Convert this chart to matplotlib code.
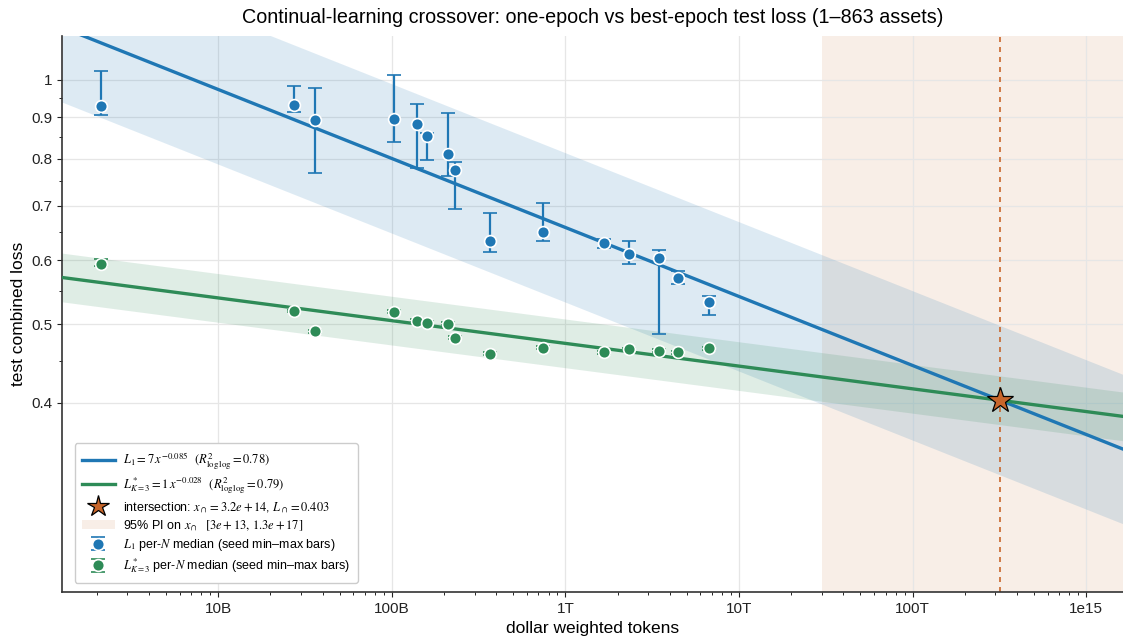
import numpy as np
import matplotlib
matplotlib.use("Agg")
import matplotlib.pyplot as plt
from matplotlib.ticker import FixedLocator, FuncFormatter, NullFormatter, LogLocator
from matplotlib.patches import Patch
from matplotlib.lines import Line2D

plt.rcParams["font.family"] = ["Liberation Sans", "DejaVu Sans"]
plt.rcParams["mathtext.fontset"] = "stix"

# per-N medians (dollar weighted tokens)
tokens = [2.11e9, 2.72e10, 3.61e10, 1.03e11, 1.39e11, 1.59e11, 2.11e11, 2.32e11,
          3.66e11, 7.4e11, 1.67e12, 2.34e12, 3.47e12, 4.46e12, 6.76e12]

l1_med = [0.930, 0.931, 0.893, 0.896, 0.882, 0.853, 0.810, 0.775,
          0.634, 0.649, 0.629, 0.610, 0.603, 0.570, 0.533]
l1_min = [0.906, 0.914, 0.768, 0.839, 0.780, 0.796, 0.762, 0.694,
          0.613, 0.634, 0.621, 0.593, 0.486, 0.561, 0.513]
l1_max = [1.026, 0.983, 0.976, 1.015, 0.934, 0.859, 0.910, 0.792,
          0.686, 0.705, 0.636, 0.634, 0.618, 0.581, 0.541]

l3_med = [0.593, 0.519, 0.490, 0.518, 0.505, 0.502, 0.501, 0.481,
          0.460, 0.468, 0.462, 0.466, 0.464, 0.462, 0.467]
l3_min = [0.590, 0.517, 0.488, 0.516, 0.503, 0.500, 0.499, 0.479,
          0.458, 0.466, 0.460, 0.464, 0.462, 0.460, 0.465]
l3_max = [0.602, 0.521, 0.492, 0.520, 0.507, 0.504, 0.503, 0.483,
          0.462, 0.470, 0.464, 0.468, 0.466, 0.464, 0.469]

# power-law fits and their crossover
b1, r2_1 = 0.085, 0.78
b3, r2_3 = 0.028, 0.79
x_cross, l_cross = 3.2e14, 0.403
pi_lo, pi_hi = 3e13, 1.3e17
band1_dex = 0.092
band3_dex = 0.030

a1 = l_cross * x_cross ** b1
a3 = l_cross * x_cross ** b3

blue = "#1f77b4"
green = "#2e8b57"
orange = "#c8662b"

fig = plt.figure(figsize=(11.23, 6.41), dpi=100)
ax = fig.add_axes([0.0552, 0.0765, 0.9448, 0.8675])

xlim = (1.26e9, 1.63e15)
xs = np.logspace(np.log10(xlim[0]), np.log10(xlim[1]), 300)
fit1 = a1 * xs ** (-b1)
fit3 = a3 * xs ** (-b3)

ax.axvspan(pi_lo, pi_hi, color=orange, alpha=0.11, lw=0, zorder=0)
ax.fill_between(xs, fit1 * 10 ** -band1_dex, fit1 * 10 ** band1_dex,
                color=blue, alpha=0.15, lw=0, zorder=1)
ax.fill_between(xs, fit3 * 10 ** -band3_dex, fit3 * 10 ** band3_dex,
                color=green, alpha=0.15, lw=0, zorder=1)
ax.plot(xs, fit1, color=blue, lw=2.4, zorder=3)
ax.plot(xs, fit3, color=green, lw=2.4, zorder=3)
ax.axvline(x_cross, color=orange, ls=(0, (3, 3)), lw=1.2, zorder=2)

l1_med = np.array(l1_med)
l3_med = np.array(l3_med)
err1 = [l1_med - np.array(l1_min), np.array(l1_max) - l1_med]
err3 = [l3_med - np.array(l3_min), np.array(l3_max) - l3_med]
eb1 = ax.errorbar(tokens, l1_med, yerr=err1, fmt="o", color=blue, ms=8.5,
                  mec="white", mew=1.2, elinewidth=1.6, capsize=5, capthick=1.6, zorder=4)
eb3 = ax.errorbar(tokens, l3_med, yerr=err3, fmt="o", color=green, ms=8.5,
                  mec="white", mew=1.2, elinewidth=1.6, capsize=5, capthick=1.6, zorder=4)
ax.plot([x_cross], [l_cross], marker="*", ms=19, color=orange, mec="black", mew=0.9, zorder=6)

ax.set_xscale("log")
ax.set_yscale("log")
ax.set_xlim(*xlim)
ax.set_ylim(0.234, 1.133)

ax.yaxis.set_major_locator(FixedLocator([0.4, 0.5, 0.6, 0.7, 0.8, 0.9, 1.0]))
ax.yaxis.set_major_formatter(FuncFormatter(lambda v, p: f"{v:g}"))
ax.yaxis.set_minor_locator(FixedLocator([0.45, 0.55, 0.65, 0.75, 0.85, 0.95]))
ax.yaxis.set_minor_formatter(NullFormatter())

x_ticks = [1e10, 1e11, 1e12, 1e13, 1e14, 1e15]
x_tick_labels = ["10B", "100B", "1T", "10T", "100T", "1e15"]
ax.xaxis.set_major_locator(FixedLocator(x_ticks))
ax.set_xticklabels(x_tick_labels)
ax.xaxis.set_minor_locator(LogLocator(base=10, subs=np.arange(2, 10), numticks=20))
ax.xaxis.set_minor_formatter(NullFormatter())

ax.grid(True, which="major", color="#e6e6e6", lw=0.9)
ax.set_axisbelow(True)
for s in ["top", "right"]:
    ax.spines[s].set_visible(False)
for s in ["left", "bottom"]:
    ax.spines[s].set_color("#333333")
    ax.spines[s].set_linewidth(1.2)
ax.tick_params(labelsize=11, colors="#222222")

ax.set_xlabel("dollar weighted tokens", fontsize=12.5)
ax.set_ylabel("test combined loss", fontsize=12.5)
ax.set_title("Continual-learning crossover: one-epoch vs best-epoch test loss (1\u2013863 assets)",
             fontsize=14.2, pad=9)

handles = [
    Line2D([], [], color=blue, lw=2.4),
    Line2D([], [], color=green, lw=2.4),
    Line2D([], [], marker="*", ls="none", ms=16, color=orange, mec="black", mew=0.9),
    Patch(color=orange, alpha=0.11, lw=0),
    eb1,
    eb3,
]
labels = [
    rf"$L_1 = {a1:.0f}\,x^{{-{b1:.3f}}}$  $(R^2_{{\mathrm{{log\,log}}}} = {r2_1:.2f})$",
    rf"$L^*_{{K=3}} = {a3:.0f}\,x^{{-{b3:.3f}}}$  $(R^2_{{\mathrm{{log\,log}}}} = {r2_3:.2f})$",
    rf"intersection: $x_\cap = 3.2e+14$, $L_\cap = {l_cross:.3f}$",
    r"95% PI on $x_\cap$  $[3e+13,\,1.3e+17]$",
    "$L_1$ per-$N$ median (seed min\u2013max bars)",
    "$L^*_{K=3}$ per-$N$ median (seed min\u2013max bars)",
]
ax.legend(handles, labels, loc="lower left", bbox_to_anchor=(0.006, 0.005), fontsize=9,
          frameon=True, edgecolor="#cccccc", framealpha=1.0, handlelength=2.6,
          handletextpad=0.7, labelspacing=0.3, borderpad=0.6)

fig.savefig("out.png", dpi=100)
